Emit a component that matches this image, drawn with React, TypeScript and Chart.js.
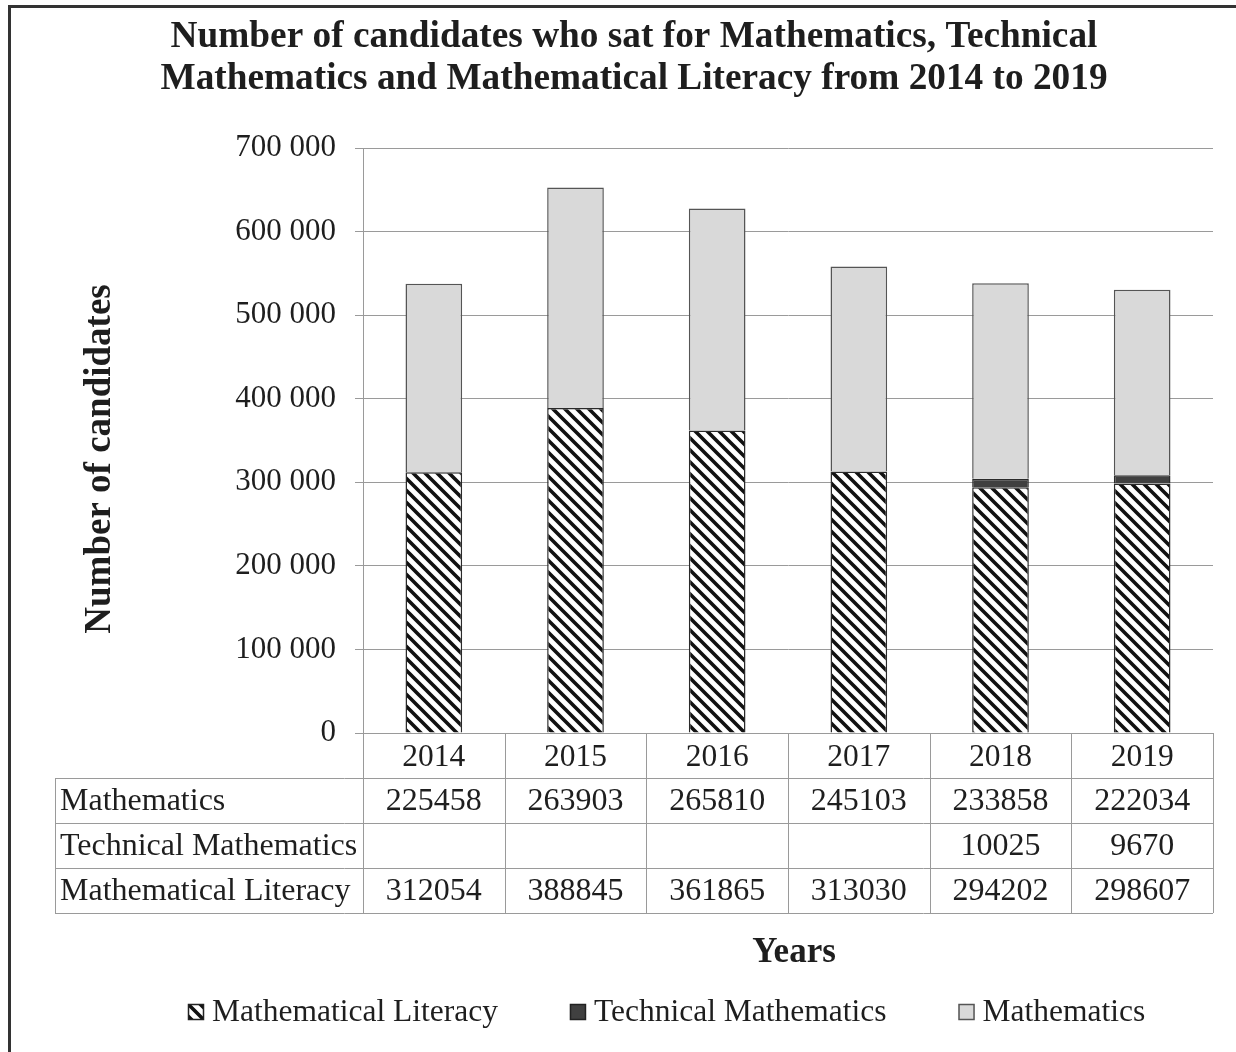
import React, { useEffect, useRef } from 'react';
import { Chart, registerables } from 'chart.js';

Chart.register(...registerables);

const years = ['2014', '2015', '2016', '2017', '2018', '2019'];
const mathematics = [225458, 263903, 265810, 245103, 233858, 222034];
const technicalMathematics: (number | null)[] = [null, null, null, null, 10025, 9670];
const mathematicalLiteracy = [312054, 388845, 361865, 313030, 294202, 298607];
const seriesNames = ['Mathematical Literacy', 'Technical Mathematics', 'Mathematics'];
const titleLines = [
  'Number of candidates who sat for Mathematics, Technical',
  'Mathematics and Mathematical Literacy from 2014 to 2019',
];
const yAxisTitle = 'Number of candidates';
const xAxisTitle = 'Years';
const yMin = 0;
const yMax = 700000;
const yStep = 100000;

const SERIF = "'Liberation Serif', 'Times New Roman', serif";
const TEXT = '#1e1e1e';
const GRID = '#9a9a9a';
const MATH_FILL = '#d9d9d9';
const TECH_FILL = '#404040';

function makeHatch(): CanvasPattern | string {
  const s = 12;
  const c = document.createElement('canvas');
  c.width = s;
  c.height = s;
  const g = c.getContext('2d');
  if (!g) return '#888';
  g.fillStyle = '#ffffff';
  g.fillRect(0, 0, s, s);
  g.strokeStyle = '#111111';
  g.lineWidth = 3.6;
  g.lineCap = 'square';
  g.beginPath();
  g.moveTo(-2, -2);
  g.lineTo(s + 2, s + 2);
  g.moveTo(-2, s - 2);
  g.lineTo(2, s + 2);
  g.moveTo(s - 2, -2);
  g.lineTo(s + 2, 2);
  g.stroke();
  const p = g.createPattern(c, 'repeat');
  return p || '#888';
}

function formatTick(v: number): string {
  const s = String(Math.round(v));
  return s.replace(/\B(?=(\d{3})+(?!\d))/g, ' ');
}

export default function App() {
  const ref = useRef<HTMLCanvasElement | null>(null);

  useEffect(() => {
    const canvas = ref.current;
    if (!canvas) return;
    const hatch = makeHatch();

    const tableRows = [
      { label: seriesNames[2], values: mathematics },
      { label: seriesNames[1], values: technicalMathematics },
      { label: seriesNames[0], values: mathematicalLiteracy },
    ];

    const legendItems = [
      { label: seriesNames[0], fill: hatch as any, stroke: '#222' },
      { label: seriesNames[1], fill: TECH_FILL, stroke: '#222' },
      { label: seriesNames[2], fill: MATH_FILL, stroke: '#555' },
    ];

    const extras = {
      id: 'extras',
      beforeDraw(chart: any) {
        const ctx = chart.ctx as CanvasRenderingContext2D;
        ctx.save();
        ctx.fillStyle = '#ffffff';
        ctx.fillRect(0, 0, chart.width, chart.height);
        ctx.strokeStyle = '#333333';
        ctx.lineWidth = 3;
        ctx.beginPath();
        ctx.moveTo(9.5, chart.height);
        ctx.lineTo(9.5, 6.5);
        ctx.lineTo(chart.width, 6.5);
        ctx.stroke();
        ctx.restore();
      },
      afterDraw(chart: any) {
        const ctx = chart.ctx as CanvasRenderingContext2D;
        const area = chart.chartArea;
        const n = years.length;
        const colW = (area.right - area.left) / n;
        const top = area.bottom;
        const rowH = 45;
        const labelLeft = 55;
        ctx.save();
        // table lines
        ctx.strokeStyle = GRID;
        ctx.lineWidth = 1;
        ctx.beginPath();
        for (let i = 0; i <= n; i++) {
          const x = Math.round(area.left + i * colW) + 0.5;
          ctx.moveTo(x, top);
          ctx.lineTo(x, top + rowH * 4);
        }
        for (let k = 1; k <= 4; k++) {
          const y = Math.round(top + rowH * k) + 0.5;
          ctx.moveTo(labelLeft, y);
          ctx.lineTo(area.right, y);
        }
        ctx.moveTo(labelLeft + 0.5, top + rowH);
        ctx.lineTo(labelLeft + 0.5, top + rowH * 4);
        ctx.stroke();

        // table text
        ctx.fillStyle = TEXT;
        ctx.font = `32px ${SERIF}`;
        ctx.textBaseline = 'middle';
        tableRows.forEach((row, r) => {
          const yc = top + rowH * (r + 1) + rowH / 2 + 1;
          ctx.textAlign = 'left';
          ctx.fillText(row.label, labelLeft + 5, yc);
          ctx.textAlign = 'center';
          row.values.forEach((v, i) => {
            if (v === null || v === undefined) return;
            const xc = chart.scales.x.getPixelForValue(i);
            ctx.fillText(String(v), xc, yc);
          });
        });

        // y axis title
        ctx.save();
        ctx.translate(100, 459);
        ctx.rotate(-Math.PI / 2);
        ctx.font = `bold 37px ${SERIF}`;
        ctx.textAlign = 'center';
        ctx.textBaseline = 'middle';
        ctx.fillText(yAxisTitle, 0, 0);
        ctx.restore();

        // x axis title
        ctx.font = `bold 35px ${SERIF}`;
        ctx.textAlign = 'center';
        ctx.textBaseline = 'middle';
        ctx.fillText(xAxisTitle, 794, 953);

        // legend
        ctx.font = `31.5px ${SERIF}`;
        ctx.textAlign = 'left';
        let lx = 188;
        const ly = 1012;
        const box = 16;
        legendItems.forEach((it) => {
          ctx.fillStyle = it.fill;
          ctx.fillRect(lx, ly - box / 2, box, box);
          ctx.strokeStyle = it.stroke;
          ctx.lineWidth = 1.5;
          ctx.strokeRect(lx + 0.5, ly - box / 2 + 0.5, box - 1, box - 1);
          ctx.fillStyle = TEXT;
          ctx.fillText(it.label, lx + 24, ly + 1);
          const w = ctx.measureText(it.label).width;
          lx += 24 + w + 72;
        });
        ctx.restore();
      },
    };

    const chart = new Chart(canvas, {
      type: 'bar',
      data: {
        labels: years,
        datasets: [
          {
            label: seriesNames[0],
            data: mathematicalLiteracy,
            backgroundColor: hatch as any,
            borderColor: '#2a2a2a',
            borderWidth: 1.5,
          },
          {
            label: seriesNames[1],
            data: technicalMathematics as any,
            backgroundColor: TECH_FILL,
            borderColor: '#2a2a2a',
            borderWidth: 1.5,
          },
          {
            label: seriesNames[2],
            data: mathematics,
            backgroundColor: MATH_FILL,
            borderColor: '#555555',
            borderWidth: 1.5,
          },
        ],
      },
      options: {
        responsive: false,
        animation: false,
        devicePixelRatio: 1,
        layout: { padding: { left: 55, right: 23, top: 0, bottom: 139 } },
        datasets: {
          bar: { barPercentage: 0.4, categoryPercentage: 1.0 },
        },
        plugins: {
          legend: { display: false },
          tooltip: { enabled: false },
          title: {
            display: true,
            text: titleLines,
            color: TEXT,
            font: { family: SERIF, size: 37.3, weight: 'bold', lineHeight: '42px' as any },
            padding: { top: 16, bottom: 48 },
          },
        },
        scales: {
          x: {
            stacked: true,
            grid: { display: false, drawTicks: false },
            border: { display: false },
            ticks: {
              color: TEXT,
              font: { family: SERIF, size: 31.5 },
              padding: 6,
              maxRotation: 0,
            },
            afterFit: (scale: any) => {
              scale.height = 180;
            },
          },
          y: {
            stacked: true,
            min: yMin,
            max: yMax,
            grid: { color: GRID, lineWidth: 1, drawTicks: true, tickLength: 8, tickColor: GRID },
            border: { display: true, color: GRID, width: 1 },
            ticks: {
              stepSize: yStep,
              color: TEXT,
              font: { family: SERIF, size: 31 },
              padding: 19,
              callback: (v: any) => formatTick(Number(v)),
            },
            afterFit: (scale: any) => {
              scale.width = 308;
            },
          },
        },
      },
      plugins: [extras],
    });

    return () => {
      chart.destroy();
    };
  }, []);

  return (
    <div style={{ position: 'absolute', left: 0, top: 0, width: 1236, height: 1052, background: '#fff' }}>
      <canvas ref={ref} width={1236} height={1052} style={{ display: 'block', width: 1236, height: 1052 }} />
    </div>
  );
}
